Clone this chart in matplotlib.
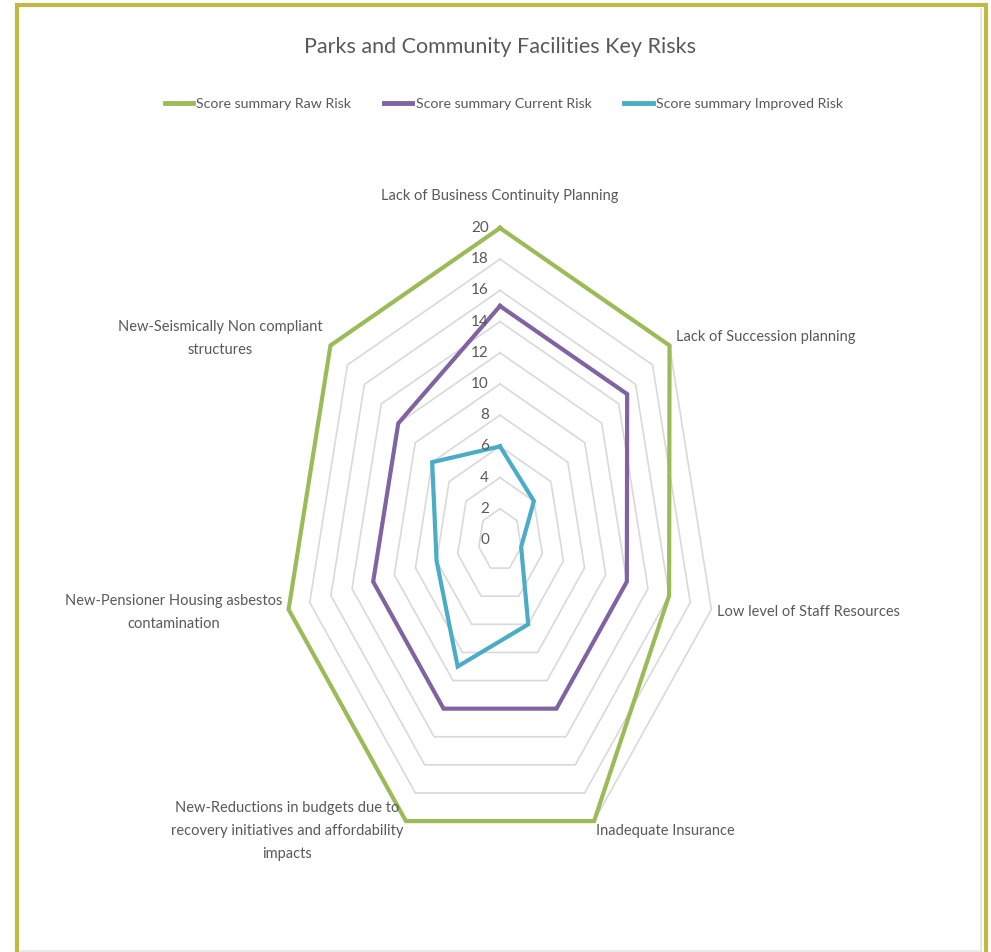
import numpy as np
import matplotlib
matplotlib.use("Agg")
import matplotlib.pyplot as plt
from matplotlib.patches import Rectangle
from matplotlib.lines import Line2D

plt.rcParams['font.family'] = ['Lato', 'DejaVu Sans']

categories = [
    "Lack of Business Continuity Planning",
    "Lack of Succession planning",
    "Low level of Staff Resources",
    "Inadequate Insurance",
    "New-Reductions in budgets due to\nrecovery initiatives and affordability\nimpacts",
    "New-Pensioner Housing asbestos\ncontamination",
    "New-Seismically Non compliant\nstructures",
]
raw_risk = [20, 20, 16, 20, 20, 20, 20]
current_risk = [15, 15, 12, 12, 12, 12, 12]
improved_risk = [6, 4, 2, 6, 9, 6, 8]
series_names = ["Score summary Raw Risk", "Score summary Current Risk",
                "Score summary Improved Risk"]
series_colors = ["#9BBB59", "#8064A2", "#4BACC6"]
r_ticks = list(range(0, 21, 2))

text_col = "#595959"
W, H = 991, 952
fig = plt.figure(figsize=(W / 100, H / 100), dpi=100)

# centre of the web at (500, 540) px; vertical radius 312 px, horizontal squeezed
cx, cy, ry = 500, 540, 312
rx = ry * 0.695
ax = fig.add_axes([(cx - rx) / W, (H - cy - ry) / H, 2 * rx / W, 2 * ry / H],
                  projection='polar')
ax.set_aspect('auto')
ax.set_theta_zero_location('N')
ax.set_theta_direction(-1)
ax.set_ylim(0, 20)
ax.grid(False)
ax.spines['polar'].set_visible(False)
ax.set_xticks([])
ax.set_yticks([])
ax.patch.set_alpha(0)

n = len(categories)
theta = np.linspace(0, 2 * np.pi, n, endpoint=False)
theta_c = np.append(theta, theta[0])

# heptagon grid
for r in r_ticks[1:]:
    ax.plot(theta_c, [r] * (n + 1), color="#D9D9D9", lw=1.2, clip_on=False, zorder=1)

for vals, col in zip([raw_risk, current_risk, improved_risk], series_colors):
    ax.plot(theta_c, vals + vals[:1], color=col, lw=3.0, clip_on=False,
            solid_joinstyle='miter', zorder=3)

# radial value labels
for r in r_ticks:
    ax.annotate(str(r), xy=(0, r), xytext=(-8, 0), textcoords='offset points',
                ha='right', va='center', fontsize=11, color=text_col, zorder=4)

# category labels: (dx px, dy px, ha)
label_pos = [(0, 32, 'center'), (6, 8, 'left'), (6, -3, 'left'), (2, -10, 'left'),
             (-3, -10, 'right'), (-6, -3, 'right'), (-8, 7, 'right')]
for t, lab, (dx, dy, ha) in zip(theta, categories, label_pos):
    ax.annotate(lab, xy=(t, 20), xytext=(dx * 0.72, dy * 0.72),
                textcoords='offset points', ha=ha, va='center',
                multialignment='center', fontsize=10.5, color=text_col,
                linespacing=1.85)

fig.text(500 / W, 1 - 47 / H, "Parks and Community Facilities Key Risks",
         ha='center', va='center', fontsize=15.5, color=text_col)

handles = [Line2D([], [], color=c, lw=3.5) for c in series_colors]
fig.legend(handles, series_names, loc='center', bbox_to_anchor=(504 / W, 1 - 104 / H),
           ncol=3, frameon=False, fontsize=10.2, labelcolor=text_col,
           handlelength=2.0, handletextpad=0.25, columnspacing=2.3)

# outer frame
fig.patches.append(Rectangle((17 / W, -0.05), 968.5 / W, 1.05 - 5 / H,
                             transform=fig.transFigure, fill=False,
                             edgecolor="#BDBB45", lw=3.0))
fig.add_artist(Line2D([981 / W, 981 / W], [0, 1 - 9 / H], transform=fig.transFigure,
                      color="#E0E0E0", lw=1.2))
fig.add_artist(Line2D([20 / W, 981 / W], [1.5 / H, 1.5 / H], transform=fig.transFigure,
                      color="#E6E6E6", lw=1.2))

fig.savefig("out.png", dpi=100)
